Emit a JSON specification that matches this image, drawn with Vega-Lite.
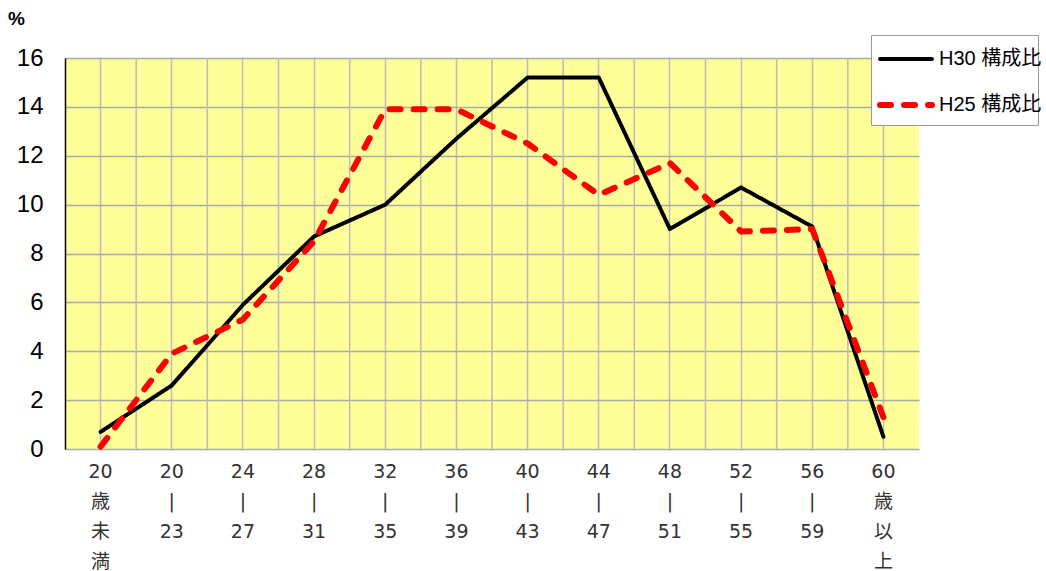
{
  "$schema": "https://vega.github.io/schema/vega-lite/v6.json",
  "width": 854,
  "height": 391,
  "autosize": {"type": "none"},
  "padding": {"left": 65, "top": 58, "right": 127, "bottom": 122},
  "background": "white",
  "view": {"fill": "#FFFF99", "stroke": null},
  "data": {
    "values": [
      {"age": "20歳未満", "series": "H30 構成比", "value": 0.7},
      {"age": "20-23", "series": "H30 構成比", "value": 2.6},
      {"age": "24-27", "series": "H30 構成比", "value": 5.9},
      {"age": "28-31", "series": "H30 構成比", "value": 8.7},
      {"age": "32-35", "series": "H30 構成比", "value": 10.0},
      {"age": "36-39", "series": "H30 構成比", "value": 12.7},
      {"age": "40-43", "series": "H30 構成比", "value": 15.2},
      {"age": "44-47", "series": "H30 構成比", "value": 15.2},
      {"age": "48-51", "series": "H30 構成比", "value": 9.0},
      {"age": "52-55", "series": "H30 構成比", "value": 10.7},
      {"age": "56-59", "series": "H30 構成比", "value": 9.1},
      {"age": "60歳以上", "series": "H30 構成比", "value": 0.5},
      {"age": "20歳未満", "series": "H25 構成比", "value": 0.1},
      {"age": "20-23", "series": "H25 構成比", "value": 3.9},
      {"age": "24-27", "series": "H25 構成比", "value": 5.3},
      {"age": "28-31", "series": "H25 構成比", "value": 8.5},
      {"age": "32-35", "series": "H25 構成比", "value": 13.9},
      {"age": "36-39", "series": "H25 構成比", "value": 13.9},
      {"age": "40-43", "series": "H25 構成比", "value": 12.5},
      {"age": "44-47", "series": "H25 構成比", "value": 10.4},
      {"age": "48-51", "series": "H25 構成比", "value": 11.7},
      {"age": "52-55", "series": "H25 構成比", "value": 8.9},
      {"age": "56-59", "series": "H25 構成比", "value": 9.0},
      {"age": "60歳以上", "series": "H25 構成比", "value": 1.3}
    ]
  },
  "encoding": {
    "x": {
      "field": "age",
      "type": "nominal",
      "sort": ["20歳未満", "20-23", "24-27", "28-31", "32-35", "36-39", "40-43", "44-47", "48-51", "52-55", "56-59", "60歳以上"],
      "scale": {"type": "band", "paddingInner": 0, "paddingOuter": 0},
      "axis": {
        "title": null,
        "grid": true,
        "gridColor": "#bbbbbb",
        "gridWidth": 1.5,
        "domain": false,
        "ticks": false,
        "labelAngle": 0,
        "labelAlign": "center",
        "labelBaseline": "top",
        "labelPadding": 13,
        "labelFont": "DejaVu Sans, Noto Sans CJK JP",
        "labelFontSize": 19,
        "labelLineHeight": 30,
        "labelColor": "#333333",
        "labelExpr": "indexof(datum.value,'歳') >= 0 ? [substring(datum.value,0,2), substring(datum.value,2,3), substring(datum.value,3,4), substring(datum.value,4,5)] : [substring(datum.value,0,2), '|', substring(datum.value,3,5)]"
      }
    }
  },
  "layer": [
    {
      "transform": [{"filter": "datum.age != '20歳未満' && datum.series == 'H30 構成比'"}],
      "mark": {"type": "rule", "color": "#bbbbbb", "strokeWidth": 1.5},
      "encoding": {
        "x": {
          "field": "age",
          "type": "nominal",
          "sort": ["20歳未満", "20-23", "24-27", "28-31", "32-35", "36-39", "40-43", "44-47", "48-51", "52-55", "56-59", "60歳以上"],
          "bandPosition": 0
        }
      }
    },
    {
      "mark": {"type": "line", "strokeCap": "round", "strokeJoin": "round"},
      "encoding": {
        "y": {
          "field": "value",
          "type": "quantitative",
          "scale": {"domain": [0, 16], "nice": false, "zero": true},
          "axis": {
            "values": [0, 2, 4, 6, 8, 10, 12, 14, 16],
            "grid": true,
            "gridColor": "#aaaaaa",
            "gridWidth": 1.5,
            "domain": true,
            "domainColor": "#000000",
            "domainWidth": 1.5,
            "ticks": false,
            "labelFont": "Liberation Sans",
            "labelFontSize": 24,
            "labelColor": "#000000",
            "labelPadding": 22,
            "title": "%",
            "titleAngle": 0,
            "titleX": -49,
            "titleY": -40,
            "titleAlign": "center",
            "titleBaseline": "middle",
            "titleFont": "Liberation Sans",
            "titleFontSize": 19,
            "titleFontWeight": "bold",
            "titleColor": "#000000"
          }
        },
        "color": {
          "field": "series",
          "type": "nominal",
          "sort": null,
          "scale": {"domain": ["H30 構成比", "H25 構成比"], "range": ["#000000", "#FF0000"]},
          "legend": {
            "title": "　　　　　　　　　　　　　　　　　　",
            "titleOrient": "bottom",
            "titleFont": "Noto Sans CJK JP",
            "titleFontSize": 10,
            "titlePadding": 2,
            "titleLimit": 400,
            "orient": "none",
            "legendX": 806,
            "legendY": -23,
            "fillColor": "#ffffff",
            "strokeColor": "#999999",
            "padding": -4,
            "rowPadding": 7,
            "symbolOffset": 10,
            "symbolType": "stroke",
            "symbolSize": 2704,
            "labelFont": "Liberation Sans, Noto Sans CJK JP",
            "labelFontSize": 20,
            "labelColor": "#000000",
            "labelOffset": 4,
            "labelLimit": 200,
            "encode": {"symbols": {"update": {"strokeCap": {"value": "round"}}}}
          }
        },
        "strokeDash": {
          "field": "series",
          "type": "nominal",
          "sort": null,
          "scale": {"domain": ["H30 構成比", "H25 構成比"], "range": [[1, 0], [11, 13]]}
        },
        "strokeWidth": {
          "field": "series",
          "type": "nominal",
          "sort": null,
          "scale": {"domain": ["H30 構成比", "H25 構成比"], "range": [4, 6]}
        }
      }
    }
  ]
}
